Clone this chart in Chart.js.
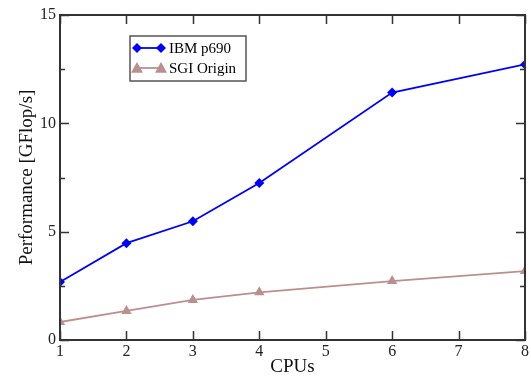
<!DOCTYPE html>
<html>
<head>
<meta charset="utf-8">
<script src="https://cdn.jsdelivr.net/npm/chart.js@4.4.1/dist/chart.umd.min.js"></script>
<style>
  html, body { margin: 0; padding: 0; background: #fff; }
  #wrap { width: 531px; height: 378px; }
</style>
</head>
<body>
<div id="wrap"><canvas id="perfChart" width="531" height="378"></canvas></div>
<script>
const cpus = [1, 2, 3, 4, 6, 8];
const ibmP690 = [2.68, 4.47, 5.48, 7.25, 11.42, 12.72];
const sgiOrigin = [0.83, 1.34, 1.85, 2.2, 2.72, 3.18];
const xTicks = [1, 2, 3, 4, 5, 6, 7, 8];
const yTicks = [0, 5, 10, 15];
const yMinorTicks = [2.5, 7.5, 12.5];

const AXIS = '#333333';
const FONT = '"Liberation Serif", "Times New Roman", serif';

const toPoints = (ys) => cpus.map((x, i) => ({ x: x, y: ys[i] }));

// draws the frame, inward ticks on all sides and the boxed legend
const frameAndLegend = {
    id: 'frameAndLegend',
    afterDatasetsDraw(chart) {
        const { ctx, chartArea: a, scales } = chart;
        const xs = scales.x, ys = scales.y;
        ctx.save();
        ctx.strokeStyle = AXIS;
        ctx.lineWidth = 2;
        ctx.strokeRect(a.left, a.top, a.right - a.left, a.bottom - a.top);

        ctx.lineWidth = 1.5;
        ctx.beginPath();
        xTicks.forEach(v => {
            const px = Math.round(xs.getPixelForValue(v)) + 0.5;
            ctx.moveTo(px, a.bottom); ctx.lineTo(px, a.bottom - 9);
            ctx.moveTo(px, a.top); ctx.lineTo(px, a.top + 9);
        });
        yTicks.forEach(v => {
            const py = Math.round(ys.getPixelForValue(v)) + 0.5;
            ctx.moveTo(a.left, py); ctx.lineTo(a.left + 9, py);
            ctx.moveTo(a.right, py); ctx.lineTo(a.right - 9, py);
        });
        yMinorTicks.forEach(v => {
            const py = Math.round(ys.getPixelForValue(v)) + 0.5;
            ctx.moveTo(a.left, py); ctx.lineTo(a.left + 5, py);
            ctx.moveTo(a.right, py); ctx.lineTo(a.right - 5, py);
        });
        ctx.stroke();

        // legend
        const bx = 130, by = 36, bw = 116, bh = 45;
        ctx.lineWidth = 1.5;
        ctx.strokeStyle = '#555';
        ctx.strokeRect(bx, by, bw, bh);
        ctx.font = '15px ' + FONT;
        ctx.textBaseline = 'middle';
        chart.data.datasets.forEach((ds, i) => {
            const cy = by + 12 + i * 20;
            ctx.strokeStyle = ds.borderColor;
            ctx.lineWidth = ds.borderWidth;
            ctx.beginPath();
            ctx.moveTo(137, cy); ctx.lineTo(161, cy);
            ctx.stroke();
            ctx.fillStyle = ds.pointBackgroundColor;
            [137, 161].forEach(px => drawMarker(ctx, ds.pointStyle, px, cy, ds.pointRadius));
            ctx.fillStyle = '#000';
            ctx.fillText(ds.label, 169, cy + 1);
        });
        ctx.restore();
    }
};

function drawMarker(ctx, style, x, y, r) {
    ctx.beginPath();
    if (style === 'rectRot') {
        ctx.moveTo(x, y - r); ctx.lineTo(x + r, y); ctx.lineTo(x, y + r); ctx.lineTo(x - r, y);
    } else {
        ctx.moveTo(x, y - r); ctx.lineTo(x + r, y + r * 0.8); ctx.lineTo(x - r, y + r * 0.8);
    }
    ctx.closePath();
    ctx.fill();
}

new Chart(document.getElementById('perfChart'), {
    type: 'line',
    data: {
        datasets: [
            {
                label: 'IBM p690', data: toPoints(ibmP690),
                borderColor: '#0000ff', backgroundColor: '#0000ff', pointBackgroundColor: '#0000ff',
                borderWidth: 1.8, pointStyle: 'rectRot', pointRadius: 5, pointBorderWidth: 0, tension: 0
            },
            {
                label: 'SGI Origin', data: toPoints(sgiOrigin),
                borderColor: '#bc8f8f', backgroundColor: '#bc8f8f', pointBackgroundColor: '#bc8f8f',
                borderWidth: 1.8, pointStyle: 'triangle', pointRadius: 6, pointBorderWidth: 0, tension: 0
            }
        ]
    },
    options: {
        responsive: false, animation: false,
        layout: { padding: { top: 15, right: 6, left: 0, bottom: 0 } },
        plugins: { legend: { display: false }, tooltip: { enabled: false } },
        scales: {
            x: {
                type: 'linear', min: 1, max: 8,
                afterBuildTicks: (s) => { s.ticks = xTicks.map(v => ({ value: v })); },
                afterFit: (s) => { s.height = 38; },
                grid: { display: false, drawTicks: false },
                border: { display: false },
                ticks: { color: '#222', font: { family: FONT, size: 16 }, padding: 2 },
                title: { display: true, text: 'CPUs', color: '#111', font: { family: FONT, size: 19 }, padding: { top: 0, bottom: 0 } }
            },
            y: {
                min: 0, max: 15,
                afterBuildTicks: (s) => { s.ticks = yTicks.map(v => ({ value: v })); },
                afterFit: (s) => { s.width = 60; },
                grid: { display: false, drawTicks: false },
                border: { display: false },
                ticks: { color: '#222', font: { family: FONT, size: 16 }, padding: 4 },
                title: { display: true, text: 'Performance [GFlop/s]', color: '#111', font: { family: FONT, size: 19 }, padding: { top: 16, bottom: 4 } }
            }
        }
    },
    plugins: [frameAndLegend]
});
</script>
</body>
</html>
